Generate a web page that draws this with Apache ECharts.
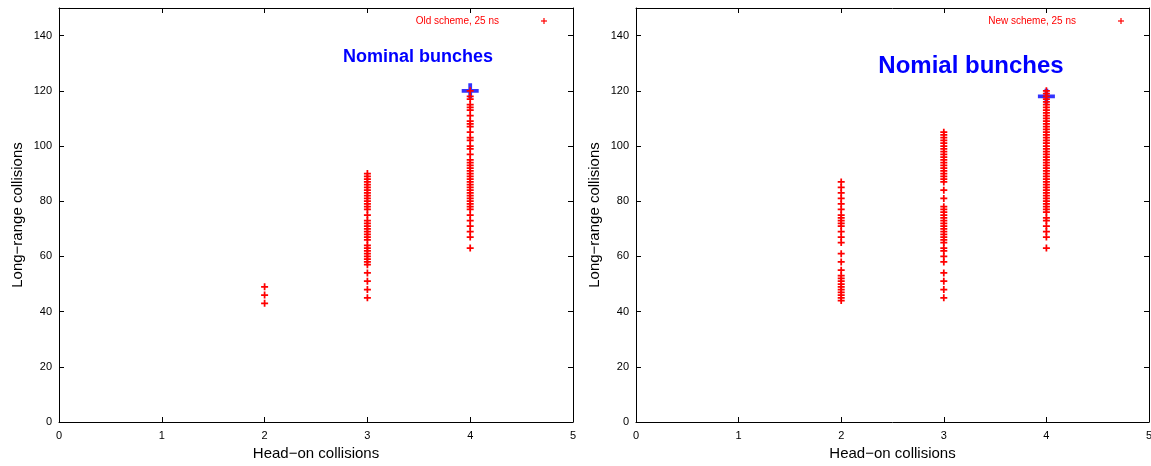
<!DOCTYPE html>
<html>
<head>
<meta charset="utf-8">
<script src="https://cdn.jsdelivr.net/npm/echarts@6/dist/echarts.min.js"></script>
<style>
html,body{margin:0;padding:0;background:#fff;}
#chart{width:1151px;height:466px;}
</style>
</head>
<body>
<div id="chart"></div>
<script>
// ---- data ----
const xTicks = [0, 1, 2, 3, 4, 5];
const yTicks = [0, 20, 40, 60, 80, 100, 120, 140];

const oldX2 = [43, 46, 49];
const oldX3 = [45, 48, 51, 54, 57, 58, 59, 60, 61, 62, 63, 64, 66, 67, 68, 69, 70, 71, 72, 73, 75, 77, 78, 79, 80, 81, 82, 83, 84, 85, 86, 87, 88, 89, 90];
const oldX4 = [63, 67, 69, 71, 73, 75, 77, 78, 79, 80, 81, 82, 83, 84, 85, 86, 87, 88, 89, 90, 91, 92, 93, 94, 95, 97, 99, 100, 102, 103, 105, 107, 108, 109, 111, 113, 114, 115, 117, 118, 120];
const oldNominal = [4, 120];

const newX2 = [44, 45, 46, 47, 48, 49, 50, 51, 52, 53, 55, 58, 61, 65, 67, 69, 71, 72, 73, 74, 75, 77, 79, 81, 83, 85, 87];
const newX3 = [45, 48, 51, 54, 58, 60, 62, 63, 65, 66, 67, 68, 69, 70, 71, 72, 73, 74, 75, 76, 77, 78, 81, 84, 87, 88, 89, 90, 91, 92, 93, 94, 95, 96, 97, 98, 99, 100, 101, 102, 103, 104, 105];
const newX4 = [63, 67, 69, 71, 73, 74, 76, 77, 78, 79, 80, 81, 82, 83, 84, 85, 86, 87, 88, 89, 90, 91, 92, 93, 94, 95, 96, 97, 98, 99, 100, 101, 102, 103, 104, 105, 106, 107, 108, 109, 110, 111, 112, 113, 114, 115, 116, 117, 118, 119, 120];
const newNominal = [4, 118];

const labels = {
  xName: 'Head\u2212on collisions',
  yName: 'Long\u2212range collisions',
  oldLegend: 'Old scheme, 25 ns',
  newLegend: 'New scheme, 25 ns',
  oldNote: 'Nominal bunches',
  newNote: 'Nomial bunches'
};

// ---- build ----
const FONT = '"Liberation Sans", Arial, sans-serif';
const RED = '#ff0000', BLUE = '#0000ff';
const plusThin = 'path://M3,0H5V3H8V5H5V8H3V5H0V3H3Z';
const plusThick = 'path://M7,0H11V6H18V10H11V16H7V10H0V6H7Z';

function pts(x, ys) { return ys.map(v => [x, v]); }

const grids = [
  {left: 59, top: 8, width: 514, height: 414, outerBoundsMode: 'none', containLabel: false},
  {left: 636, top: 8, width: 513, height: 414, outerBoundsMode: 'none', containLabel: false}
];

const xAxes = [], yAxes = [];
grids.forEach((g, i) => {
  const axLine = {show: true, onZero: false, lineStyle: {color: '#000', width: 1}};
  const tick = {show: true, inside: true, length: 5, lineStyle: {color: '#000'}};
  xAxes.push({
    gridIndex: i, type: 'value', min: 0, max: 5, interval: 1, position: 'bottom',
    axisLine: axLine, axisTick: tick, splitLine: {show: false},
    axisLabel: {color: '#000', fontFamily: FONT, fontSize: 11, margin: 8},
    name: labels.xName, nameLocation: 'middle', nameGap: 23,
    nameTextStyle: {color: '#000', fontFamily: FONT, fontSize: 15}
  });
  xAxes.push({
    gridIndex: i, type: 'value', min: 0, max: 5, interval: 1, position: 'top',
    axisLine: axLine, axisTick: tick, splitLine: {show: false}, axisLabel: {show: false}
  });
  yAxes.push({
    gridIndex: i, type: 'value', min: 0, max: 150, interval: 20, position: 'left',
    axisLine: axLine, axisTick: tick, splitLine: {show: false},
    axisLabel: {color: '#000', fontFamily: FONT, fontSize: 11, margin: 7, showMaxLabel: false},
    name: labels.yName, nameLocation: 'middle', nameGap: 34,
    nameTextStyle: {color: '#000', fontFamily: FONT, fontSize: 15}
  });
  yAxes.push({
    gridIndex: i, type: 'value', min: 0, max: 150, interval: 20, position: 'right',
    axisLine: axLine, axisTick: tick, splitLine: {show: false}, axisLabel: {show: false}
  });
});

function redSeries(gi, data) {
  return {
    type: 'scatter', xAxisIndex: gi * 2, yAxisIndex: gi * 2, data: data,
    symbol: plusThin, symbolSize: 7, itemStyle: {color: RED, opacity: 1},
    emphasis: {disabled: true}, animation: false, z: 3
  };
}
function blueSeries(gi, pt) {
  return {
    type: 'scatter', xAxisIndex: gi * 2, yAxisIndex: gi * 2, data: [pt],
    symbol: plusThick, symbolSize: [17, 15], itemStyle: {color: BLUE},
    emphasis: {disabled: true}, animation: false, z: 2
  };
}

const series = [
  blueSeries(0, oldNominal),
  redSeries(0, pts(2, oldX2).concat(pts(3, oldX3), pts(4, oldX4))),
  blueSeries(1, newNominal),
  redSeries(1, pts(2, newX2).concat(pts(3, newX3), pts(4, newX4)))
];

function legendGraphic(textRight, plusX, y, text) {
  return [
    {type: 'text', x: textRight, y: y, style: {text: text, fill: RED, font: '10px ' + FONT, align: 'right', verticalAlign: 'middle'}},
    {type: 'rect', shape: {x: plusX - 3, y: y - 0.6, width: 6, height: 1.2}, style: {fill: RED}},
    {type: 'rect', shape: {x: plusX - 0.6, y: y - 3, width: 1.2, height: 6}, style: {fill: RED}}
  ];
}

const graphic = [].concat(
  legendGraphic(499, 544, 21, labels.oldLegend),
  legendGraphic(1076, 1121, 21, labels.newLegend),
  [
    {type: 'text', x: 418, y: 57, style: {text: labels.oldNote, fill: BLUE, font: 'bold 18px ' + FONT, align: 'center', verticalAlign: 'middle'}},
    {type: 'text', x: 971, y: 66, style: {text: labels.newNote, fill: BLUE, font: 'bold 24px ' + FONT, align: 'center', verticalAlign: 'middle'}}
  ]
);

const chart = echarts.init(document.getElementById('chart'), null, {renderer: 'canvas'});
chart.setOption({
  backgroundColor: '#fff',
  animation: false,
  grid: grids,
  xAxis: xAxes,
  yAxis: yAxes,
  series: series,
  graphic: graphic
});
</script>
</body>
</html>
